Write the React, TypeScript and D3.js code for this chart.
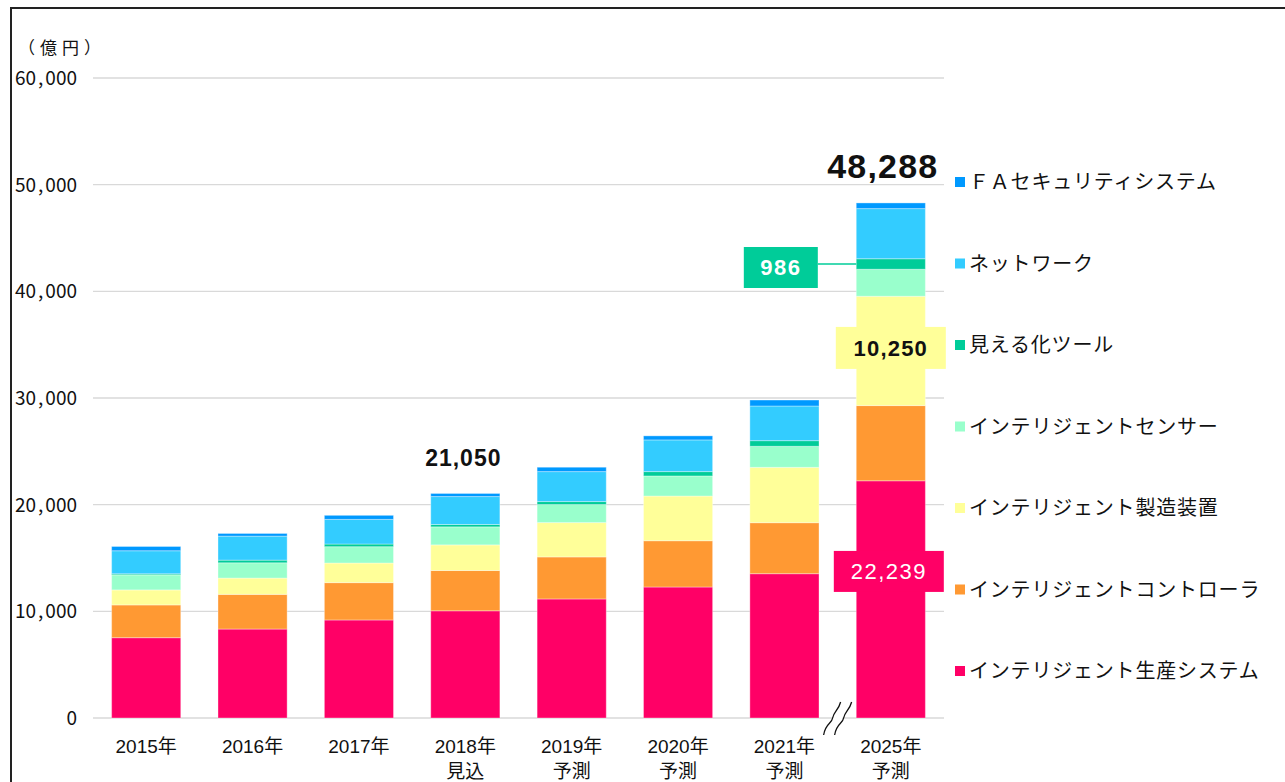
import React from "react";
import * as d3 from "d3";

const categories = ["2015年", "2016年", "2017年", "2018年", "2019年", "2020年", "2021年", "2025年"];
const subLabels = ["", "", "", "見込", "予測", "予測", "予測", "予測"];

const production = [7530, 8340, 9190, 10050, 11160, 12280, 13530, 22239];
const controller = [3070, 3250, 3500, 3780, 3940, 4340, 4780, 7050];
const equipment = [1410, 1530, 1840, 2400, 3220, 4190, 5190, 10250];
const sensor = [1410, 1430, 1530, 1690, 1690, 1880, 1970, 2531];
const visualization = [100, 250, 250, 220, 280, 410, 530, 986];
const network = [2160, 2250, 2310, 2620, 2810, 2970, 3250, 4700];
const faSecurity = [400, 250, 380, 290, 410, 380, 560, 532];

const seriesNames = [
  "インテリジェント生産システム",
  "インテリジェントコントローラ",
  "インテリジェント製造装置",
  "インテリジェントセンサー",
  "見える化ツール",
  "ネットワーク",
  "ＦＡセキュリティシステム",
];
const seriesKeys = ["production", "controller", "equipment", "sensor", "visualization", "network", "faSecurity"];
const seriesColors = ["#FF0066", "#FF9933", "#FFFF99", "#99FFCC", "#00CC99", "#33CCFF", "#0099FF"];
const yTicks = [0, 10000, 20000, 30000, 40000, 50000, 60000];
const totalLabels = [{ cat: "2018年", value: 21050 }, { cat: "2025年", value: 48288 }];

const W = 1285;
const H = 782;
const JP = "'Noto Sans CJK JP', 'Noto Sans', sans-serif";
const NUM = "'Liberation Sans', Arial, 'Noto Sans', sans-serif";

export default function App() {
  const rows = categories.map((c, i) => ({
    cat: c,
    production: production[i],
    controller: controller[i],
    equipment: equipment[i],
    sensor: sensor[i],
    visualization: visualization[i],
    network: network[i],
    faSecurity: faSecurity[i],
  }));
  const stacked = d3.stack<any>().keys(seriesKeys)(rows);

  const x = d3.scaleBand().domain(categories).range([93, 944]).paddingInner(0.35).paddingOuter(0.175);
  const y = d3.scaleLinear().domain([0, 60000]).range([718, 78]);
  const bw = x.bandwidth();

  const last = categories[categories.length - 1];
  const lastIdx = categories.length - 1;
  const cxLast = (x(last) as number) + bw / 2;

  const visSeg = stacked[4][lastIdx];
  const eqSeg = stacked[2][lastIdx];
  const visY = y((visSeg[0] + visSeg[1]) / 2);
  const eqY = y((eqSeg[0] + eqSeg[1]) / 2) - 3;
  const prodY = y(production[lastIdx] * 0.62);

  const breakX = ((x(categories[lastIdx - 1]) as number) + bw + (x(last) as number)) / 2;
  const breakY = y(0);

  const fmt = d3.format(",");

  const legendTop = 182;
  const legendStep = 81.5;

  return (
    <svg width={W} height={H} style={{ position: "absolute", left: 0, top: 0, background: "#fff" }}>
      <rect x={0} y={0} width={W} height={H} fill="#fff" />
      <path d={`M11,${H} V8 H${W}`} fill="none" stroke="#222" strokeWidth={2} />

      <text x={18} y={54} fontFamily={JP} fontSize={17} letterSpacing={5} fill="#111">（億円）</text>

      {yTicks.map((t) => (
        <g key={t}>
          <line x1={93} x2={944} y1={y(t)} y2={y(t)} stroke="#d9d9d9" strokeWidth={1.3} />
          <text x={77} y={y(t) + 7} textAnchor="end" fontFamily={JP} fontSize={19} fill="#111">
            {fmt(t).split(",").map((part, k) =>
              k === 0 ? (
                <tspan key={k}>{part}</tspan>
              ) : (
                <React.Fragment key={k}>
                  <tspan dx={2}>,</tspan>
                  <tspan dx={2}>{part}</tspan>
                </React.Fragment>
              )
            )}
          </text>
        </g>
      ))}

      {stacked.map((s, si) => (
        <g key={seriesKeys[si]} fill={seriesColors[si]}>
          {s.map((d, i) => (
            <rect
              key={i}
              x={x(categories[i]) as number}
              y={y(d[1])}
              width={bw}
              height={Math.max(0, y(d[0]) - y(d[1]))}
              stroke="rgba(255,255,255,0.35)"
              strokeWidth={1}
            />
          ))}
        </g>
      ))}

      {categories.map((c, i) => {
        const cx = (x(c) as number) + bw / 2;
        return (
          <g key={c} fontFamily={"'Liberation Sans Narrow', 'Liberation Sans', " + JP} fontSize={19} fill="#111" textAnchor="middle">
            <text x={cx} y={753}>{c}</text>
            {subLabels[i] && <text x={cx} y={778} fontFamily={JP}>{subLabels[i]}</text>}
          </g>
        );
      })}

      <g transform={`translate(${breakX},${breakY})`}>
        <path d="M-9,17 C-7,5 -1,6 0,0 S 6,-8 8,-16" fill="none" stroke="#fff" strokeWidth={9} />
        <path d="M-14,17 C-12,5 -6,6 -5,0 S 1,-8 3,-16" fill="none" stroke="#111" strokeWidth={1.3} />
        <path d="M-3,17 C-1,5 5,6 6,0 S 12,-8 14,-16" fill="none" stroke="#111" strokeWidth={1.3} />
      </g>

      {totalLabels.map((t, k) => {
        const cx = (x(t.cat) as number) + bw / 2;
        const big = k === 1;
        return (
          <text key={t.cat} x={big ? cx - 8 : cx - 2} y={y(t.value) - (big ? 25 : 27)} textAnchor="middle" fontFamily={NUM}
            fontWeight="bold" fontSize={big ? 34 : 23} letterSpacing={big ? 1.2 : 1} fill="#111">{fmt(t.value)}</text>
        );
      })}

      <line x1={cxLast - 73} x2={x(last) as number} y1={visY} y2={visY} stroke="#00CC99" strokeWidth={1.5} />
      <rect x={cxLast - 147} y={visY - 17} width={74} height={41} fill="#00CC99" />
      <text x={cxLast - 110} y={visY + 11} textAnchor="middle" fontFamily={NUM} fontWeight="bold" fontSize={22} letterSpacing={1.5} fill="#fff">{fmt(visualization[lastIdx])}</text>

      <rect x={cxLast - 55} y={eqY - 21} width={110} height={42} fill="#FFFF99" />
      <text x={cxLast} y={eqY + 8} textAnchor="middle" fontFamily={NUM} fontWeight="bold" fontSize={22} letterSpacing={1.2} fill="#111">{fmt(equipment[lastIdx])}</text>

      <rect x={cxLast - 57} y={prodY - 20} width={110} height={41} fill="#FF0066" />
      <text x={cxLast - 2} y={prodY + 8} textAnchor="middle" fontFamily={NUM} fontSize={22} letterSpacing={1.5} fill="#fff">{fmt(production[lastIdx])}</text>

      {seriesNames.map((n, i) => {
        const idx = seriesNames.length - 1 - i;
        const yy = legendTop + i * legendStep;
        return (
          <g key={n}>
            <rect x={955} y={yy - 5} width={10} height={10} fill={seriesColors[idx]} />
            <text x={969} y={yy + 7} fontFamily={JP} fontSize={20} letterSpacing={0.8} fill="#111">{seriesNames[idx]}</text>
          </g>
        );
      })}
    </svg>
  );
}
